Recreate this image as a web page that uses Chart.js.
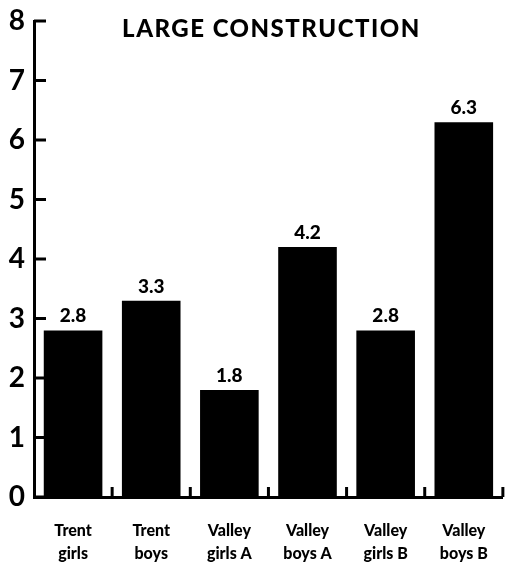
<!DOCTYPE html>
<html>
<head>
<meta charset="utf-8">
<script src="https://cdn.jsdelivr.net/npm/chart.js@4/dist/chart.umd.min.js"></script>
<style>
  html, body { margin: 0; padding: 0; background: #fff; }
  #wrap { width: 511px; height: 566px; }
</style>
</head>
<body>
<div id="wrap"><canvas id="chart"></canvas></div>
<script>
const categories = [
    ['Trent', 'girls'],
    ['Trent', 'boys'],
    ['Valley', 'girls A'],
    ['Valley', 'boys A'],
    ['Valley', 'girls B'],
    ['Valley', 'boys B']
];
const values = [2.8, 3.3, 1.8, 4.2, 2.8, 6.3];
const yTicks = [0, 1, 2, 3, 4, 5, 6, 7, 8];
const title = 'LARGE CONSTRUCTION';

const fontFamily = 'Lato, "Open Sans", sans-serif';

// inward tick marks, value labels and the title inside the plot
const decorations = {
    id: 'decorations',
    beforeDatasetsDraw(chart) {
        const ctx = chart.ctx;
        const x = chart.scales.x;
        const y = chart.scales.y;
        const area = chart.chartArea;
        ctx.save();
        ctx.strokeStyle = '#000';
        ctx.lineWidth = 3;
        yTicks.forEach((v) => {
            const py = y.getPixelForValue(v);
            ctx.beginPath();
            ctx.moveTo(area.left, py);
            ctx.lineTo(area.left + 12, py);
            ctx.stroke();
        });
        for (let i = 1; i <= categories.length; i++) {
            const px = x.getPixelForValue(i - 0.5);
            ctx.beginPath();
            ctx.moveTo(px, area.bottom);
            ctx.lineTo(px, area.bottom - 10);
            ctx.stroke();
        }
        ctx.restore();
    },
    afterDatasetsDraw(chart) {
        const ctx = chart.ctx;
        const area = chart.chartArea;
        ctx.save();
        ctx.fillStyle = '#000';
        ctx.textAlign = 'center';
        ctx.textBaseline = 'alphabetic';
        ctx.font = '900 19px ' + fontFamily;
        chart.getDatasetMeta(0).data.forEach((bar, i) => {
            ctx.fillText(values[i].toFixed(1), bar.x, bar.y - 8);
        });
        ctx.font = '900 24px ' + fontFamily;
        ctx.letterSpacing = '1.5px';
        ctx.fillText(title, (area.left + area.right) / 2 + 3, 37);
        ctx.restore();
    }
};

new Chart(document.getElementById('chart'), {
    type: 'bar',
    data: {
        labels: categories,
        datasets: [{
            data: values,
            backgroundColor: '#000',
            borderWidth: 0,
            barPercentage: 0.75,
            categoryPercentage: 1
        }]
    },
    options: {
        responsive: true,
        maintainAspectRatio: false,
        animation: false,
        layout: { padding: { top: 21, right: 3, left: 0, bottom: 0 } },
        plugins: {
            legend: { display: false },
            tooltip: { enabled: false }
        },
        scales: {
            x: {
                grid: { display: false, drawTicks: false },
                border: { display: true, color: '#000', width: 3 },
                ticks: {
                    color: '#000',
                    padding: 23,
                    maxRotation: 0,
                    font: { family: fontFamily, size: 16, weight: '900', lineHeight: 1.4 }
                },
                afterFit(scale) { scale.height = 69; }
            },
            y: {
                min: 0,
                max: 8,
                grid: { display: false, drawTicks: false },
                border: { display: true, color: '#000', width: 3 },
                afterBuildTicks(scale) { scale.ticks = yTicks.map((v) => ({value: v})); },
                ticks: {
                    color: '#000',
                    padding: 9,
                    font: { family: fontFamily, size: 28, weight: 'bold', lineHeight: 1 }
                },
                afterFit(scale) {
                    scale.width = 34;
                    scale.paddingTop = 0;
                    scale.paddingBottom = 0;
                }
            }
        }
    },
    plugins: [decorations]
});
</script>
</body>
</html>
